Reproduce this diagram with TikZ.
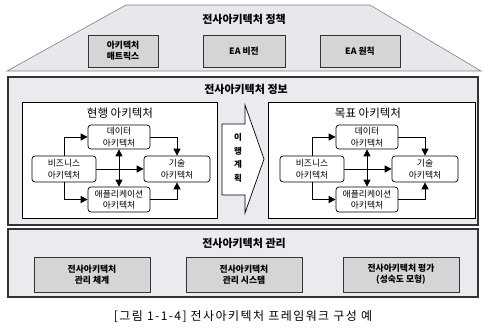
\documentclass[tikz,border=0pt]{standalone}
\usepackage{fontspec}
\setmainfont{Noto Sans CJK KR}
\newfontfamily\capfont[LetterSpace=12]{Noto Sans CJK KR}
\usetikzlibrary{arrows.meta,calc}
\definecolor{panelfill}{HTML}{EBEBEF}
\definecolor{trapfill}{HTML}{E8E8EC}
\definecolor{boxfill}{HTML}{D5D5D7}
\definecolor{edgegray}{HTML}{333333}
\tikzset{
  gbox/.style={draw=edgegray,line width=0.9pt,fill=boxfill,align=center,inner sep=0pt,
    font=\fontsize{8.8}{11}\selectfont\bfseries},
  panel/.style={draw=edgegray,line width=1.3pt,fill=panelfill},
  ttl/.style={font=\fontsize{11}{13}\selectfont\bfseries},
  abox/.style={draw=black,line width=0.7pt,rounded corners=3pt,fill=white,align=center,
    inner sep=0pt,font=\fontsize{8.8}{11.5}\selectfont},
  conn/.style={line width=0.8pt,-{Triangle[length=7pt,width=7pt]}},
  dconn/.style={line width=0.8pt,{Triangle[length=7pt,width=7pt]}-{Triangle[length=7pt,width=7pt]}},
}
\newcommand\archdiag[3]{%
  \begin{scope}[xshift=#2]
  \node[font=\fontsize{11.5}{13}\selectfont] (#1t) at (120,113) {#3};
  \node[abox,minimum width=62pt,minimum height=24pt] (#1d) at (119,137) {데이터\\아키텍처};
  \node[abox,minimum width=64pt,minimum height=26pt] (#1b) at (64,169) {비즈니스\\아키텍처};
  \node[abox,minimum width=66pt,minimum height=26pt] (#1k) at (177,169) {기술\\아키텍처};
  \node[abox,minimum width=62pt,minimum height=25pt] (#1a) at (119,199.5) {애플리케이션\\아키텍처};
  \draw[conn] (#1b.north) |- (#1d.west);
  \draw[conn] (#1b.south) |- (#1a.west);
  \draw[conn] (#1b.east) -- (#1k.west);
  \draw[conn] (#1d.east) -| (#1k.north);
  \draw[conn] (#1a.east) -| (#1k.south);
  \draw[dconn] (#1d.south) -- (#1a.north);
  \end{scope}}
\begin{document}
\begin{tikzpicture}[x=1pt,y=-1pt]
\useasboundingbox (0,0) rectangle (489,331);
% top section
\draw[draw=gray,line width=0.6pt,fill=trapfill] (126,5) coordinate (tA) -- (370,5) coordinate (tB)
  -- (481,71) coordinate (tC) -- (7,71) coordinate (tD) -- cycle;
\node[ttl] (toptitle) at (244,19) {전사아키텍처 정책};
\node[gbox,minimum width=70pt,minimum height=32pt] (p1) at (123,51) {아키텍처\\매트릭스};
\node[gbox,minimum width=82pt,minimum height=32pt] (p2) at (244,51) {EA 비전};
\node[gbox,minimum width=80pt,minimum height=32pt] (p3) at (360,51) {EA 원칙};
% middle section
\draw[panel] (8,77) rectangle (478,225);
\node[ttl] (midtitle) at (246,89) {전사아키텍처 정보};
\draw[draw=black,line width=0.9pt,fill=white] (22,102) rectangle (217,218);
\draw[draw=black,line width=0.9pt,fill=white] (268,102) rectangle (475,218);
\archdiag{L}{0}{현행 아키텍처}
\archdiag{R}{248}{목표 아키텍처}
% transition arrow
\draw[draw=black,line width=0.7pt,fill=white] (222,124) -- (245,124) -- (245,105) -- (264,159)
  -- (245,213) -- (245,195) -- (222,195) -- cycle;
\node[align=center,font=\fontsize{8.5}{13.5}\selectfont\bfseries] (trans) at (238,158) {이\\행\\계\\획};
% bottom section
\draw[panel] (8,229) rectangle (478,297);
\node[ttl] (bottitle) at (244,243) {전사아키텍처 관리};
\node[gbox,minimum width=116pt,minimum height=35pt] (m1) at (92,274.5) {전사아키텍처\\관리 체계};
\node[gbox,minimum width=116pt,minimum height=35pt] (m2) at (244,274.5) {전사아키텍처\\관리 시스템};
\node[gbox,minimum width=116pt,minimum height=35pt] (m3) at (401,274.5) {전사아키텍처 평가\\(성숙도 모형)};
% caption
\node[font=\fontsize{12}{14}\capfont] (cap) at (243,317) {[그림 1-1-4] 전사아키텍처 프레임워크 구성 예};
\end{tikzpicture}
\end{document}
